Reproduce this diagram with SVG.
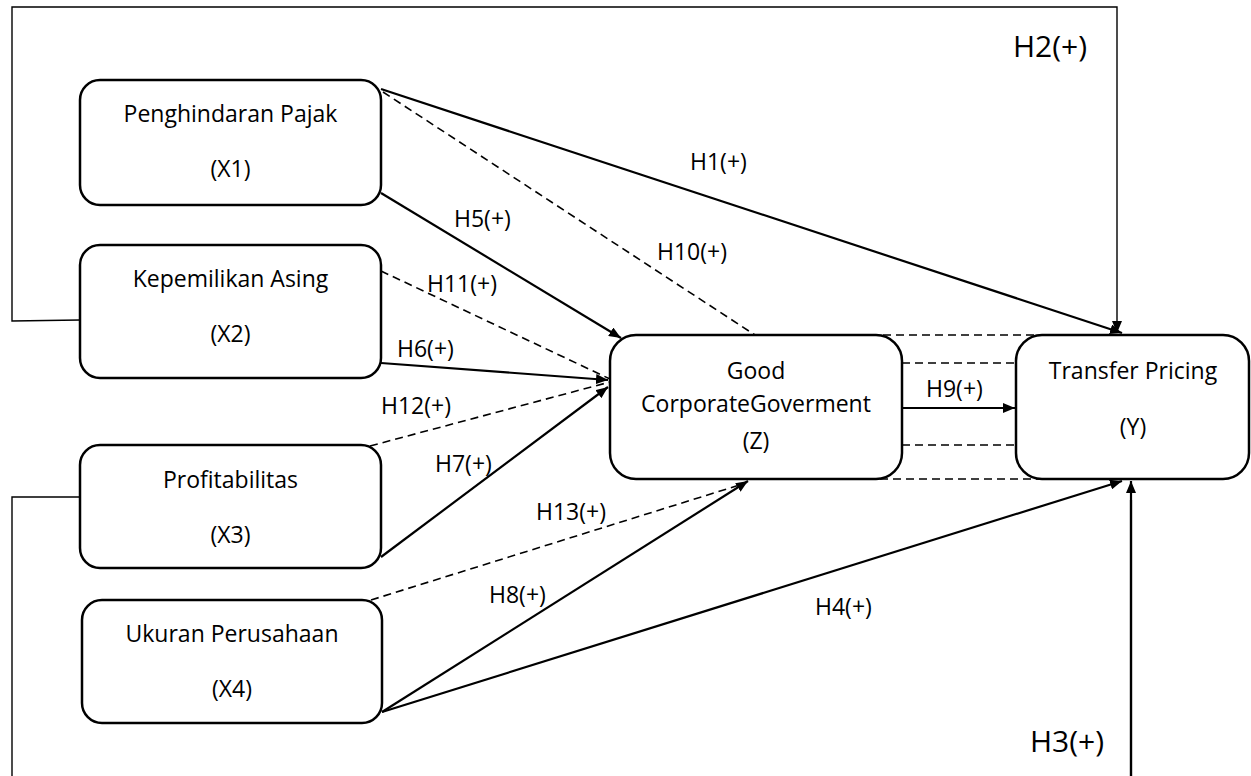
<svg xmlns="http://www.w3.org/2000/svg" width="1251" height="776" viewBox="0 0 1251 776">
  <defs>
    <style>
      .box { fill: #ffffff; stroke: #000000; stroke-width: 2.5; }
      .txt { font-family: "Open Sans", "Liberation Sans", sans-serif; font-size: 23px; fill: #000000; text-anchor: middle; }
      .lbl { font-family: "Open Sans", "Liberation Sans", sans-serif; font-size: 23px; fill: #000000; }
      .big { font-family: "Open Sans", "Liberation Sans", sans-serif; font-size: 30px; fill: #000000; }
      .solid { fill: none; stroke: #000000; stroke-width: 2.2; }
      .thin { fill: none; stroke: #000000; stroke-width: 1.4; }
      .dash { fill: none; stroke: #000000; stroke-width: 1.6; stroke-dasharray: 8 5; }
    </style>
    <marker id="arrow" viewBox="0 0 12 10" refX="12" refY="5" markerWidth="12" markerHeight="10" markerUnits="userSpaceOnUse" orient="auto">
      <path d="M0,0 L12,5 L0,10 Z" fill="#000000"/>
    </marker>
  </defs>

  <rect width="1251" height="776" fill="#ffffff"/>

  <!-- connectors -->
  <g id="connectors">
    <!-- H2: Kepemilikan Asing around the top to Transfer Pricing -->
    <polyline class="thin" points="80,320 12,321 12,7 1117,7 1117,333" marker-end="url(#arrow)"/>
    <!-- H3: Profitabilitas around the bottom to Transfer Pricing -->
    <polyline class="thin" points="80,497 12,497 12,790 1131,790 1131,481"/>
    <line x1="1131" y1="500" x2="1131" y2="481" class="solid" marker-end="url(#arrow)"/>
    <line x1="1131" y1="776" x2="1131" y2="500" style="stroke:#000;stroke-width:2.4"/>

    <!-- direct paths -->
    <line class="solid" x1="381" y1="89" x2="1122" y2="333" marker-end="url(#arrow)"/>
    <line class="solid" x1="381" y1="193" x2="621" y2="338" marker-end="url(#arrow)"/>
    <line class="solid" x1="381" y1="363" x2="608" y2="380" marker-end="url(#arrow)"/>
    <line class="solid" x1="381" y1="557" x2="608" y2="387" marker-end="url(#arrow)"/>
    <line class="solid" x1="382" y1="712" x2="748" y2="481" marker-end="url(#arrow)"/>
    <line class="solid" x1="382" y1="712" x2="1122" y2="481" marker-end="url(#arrow)"/>
    <line class="solid" x1="902" y1="408" x2="1015" y2="408" marker-end="url(#arrow)"/>

    <!-- mediated paths -->
    <line class="dash" x1="383" y1="92" x2="755" y2="335"/>
    <line class="dash" x1="381" y1="271" x2="610" y2="379"/>
    <line class="dash" x1="370" y1="446" x2="610" y2="382"/>
    <line class="dash" x1="371" y1="600" x2="746" y2="483"/>
    <line class="dash" x1="883" y1="335" x2="1040" y2="335"/>
    <line class="dash" x1="902" y1="363" x2="1016" y2="363"/>
    <line class="dash" x1="902" y1="445" x2="1016" y2="445"/>
    <line class="dash" x1="880" y1="479" x2="1040" y2="479"/>
  </g>

  <!-- nodes -->
  <g id="x1">
    <rect class="box" x="80" y="80" width="301" height="125" rx="20"/>
    <text class="txt" x="230.5" y="122">Penghindaran Pajak</text>
    <text class="txt" x="230.5" y="177">(X1)</text>
  </g>
  <g id="x2">
    <rect class="box" x="80" y="245" width="301" height="133" rx="20"/>
    <text class="txt" x="230.5" y="287">Kepemilikan Asing</text>
    <text class="txt" x="230.5" y="342">(X2)</text>
  </g>
  <g id="x3">
    <rect class="box" x="80" y="445" width="301" height="123" rx="20"/>
    <text class="txt" x="230.5" y="488">Profitabilitas</text>
    <text class="txt" x="230.5" y="543">(X3)</text>
  </g>
  <g id="x4">
    <rect class="box" x="82" y="600" width="300" height="123" rx="20"/>
    <text class="txt" x="232" y="642">Ukuran Perusahaan</text>
    <text class="txt" x="232" y="697">(X4)</text>
  </g>
  <g id="z">
    <rect class="box" x="610" y="335" width="292" height="144" rx="26"/>
    <text class="txt" x="756" y="379">Good</text>
    <text class="txt" x="756" y="412">CorporateGoverment</text>
    <text class="txt" x="756" y="449">(Z)</text>
  </g>
  <g id="y">
    <rect class="box" x="1016" y="335" width="233" height="144" rx="26"/>
    <text class="txt" x="1133" y="379">Transfer Pricing</text>
    <text class="txt" x="1133" y="435">(Y)</text>
  </g>

  <!-- path labels -->
  <g id="labels">
    <text class="lbl" x="690" y="170">H1(+)</text>
    <text class="lbl" x="454" y="227">H5(+)</text>
    <text class="lbl" x="657" y="260">H10(+)</text>
    <text class="lbl" x="427" y="292">H11(+)</text>
    <text class="lbl" x="397" y="357">H6(+)</text>
    <text class="lbl" x="381" y="414">H12(+)</text>
    <text class="lbl" x="435" y="472">H7(+)</text>
    <text class="lbl" x="536" y="520">H13(+)</text>
    <text class="lbl" x="489" y="603">H8(+)</text>
    <text class="lbl" x="815" y="615">H4(+)</text>
    <text class="lbl" x="926" y="397">H9(+)</text>
    <text class="big" x="1013" y="57">H2(+)</text>
    <text class="big" x="1030" y="752">H3(+)</text>
  </g>
</svg>
